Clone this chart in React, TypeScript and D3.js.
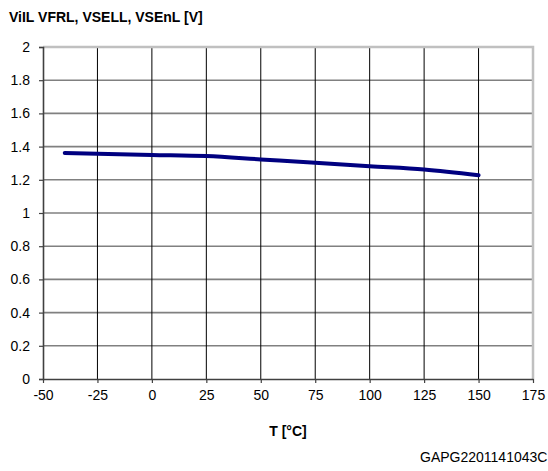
import * as d3 from "d3";
import { useEffect, useRef } from "react";

// temperature points and the threshold voltage
const temps = [-40, 0, 25, 50, 75, 100, 125, 150];
const volts = [1.362, 1.35, 1.343, 1.323, 1.303, 1.282, 1.262, 1.228];
const xTicks = [-50, -25, 0, 25, 50, 75, 100, 125, 150, 175];
const yTicks = [0, 0.2, 0.4, 0.6, 0.8, 1, 1.2, 1.4, 1.6, 1.8, 2];
const title = "ViIL VFRL, VSELL, VSEnL [V]";
const xTitle = "T [°C]";
const figId = "GAPG2201141043C";

const App = () => {
  const svgRef = useRef<SVGSVGElement>(null);

  const W = 548;
  const H = 471;
  const margin = { top: 47, right: 15, bottom: 92, left: 43 };
  const width = W - margin.left - margin.right;
  const height = H - margin.top - margin.bottom;

  useEffect(() => {
    const svg = d3.select(svgRef.current);
    svg.selectAll("*").remove();
    const font = "'Liberation Sans', Arial, sans-serif";

    const x = d3.scaleLinear().domain([-50, 175]).range([0, width]);
    const y = d3.scaleLinear().domain([0, 2]).range([height, 0]);

    const g = svg.append("g").attr("transform", `translate(${margin.left},${margin.top})`);

    //горизонтальная сетка
    g.selectAll(".hgrid")
      .data(yTicks.filter(d => d > 0 && d < 2))
      .enter()
      .append("line")
      .attr("x1", 0)
      .attr("x2", width)
      .attr("y1", d => y(d))
      .attr("y2", d => y(d))
      .attr("stroke", "#808080")
      .attr("stroke-width", 1.6);

    //вертикальная сетка
    g.selectAll(".vgrid")
      .data(xTicks.filter(d => d > -50 && d < 175))
      .enter()
      .append("line")
      .attr("x1", d => x(d))
      .attr("x2", d => x(d))
      .attr("y1", 0)
      .attr("y2", height)
      .attr("stroke", "#000")
      .attr("stroke-width", 1);

    //верхняя и правая рамка
    g.append("path")
      .attr("d", `M0,0H${width}V${height}`)
      .attr("fill", "none")
      .attr("stroke", "#c0c0c0")
      .attr("stroke-width", 2.5);

    //ось y
    const yAxis = g.append("g")
      .call(d3.axisLeft(y).tickValues(yTicks).tickSize(4).tickPadding(9).tickFormat(d => String(d)));
    yAxis.select(".domain").attr("stroke", "#404040").attr("stroke-width", 1.6);
    yAxis.selectAll(".tick line").attr("stroke", "#404040").attr("stroke-width", 1.2);
    yAxis.selectAll("text")
      .style("font-size", "14px")
      .style("font-family", font)
      .style("fill", "#000");

    //ось x (обычный дефис вместо знака минус)
    const xAxis = g.append("g")
      .attr("transform", `translate(0,${height})`)
      .call(d3.axisBottom(x).tickValues(xTicks).tickSize(4).tickPadding(7).tickSizeOuter(0).tickFormat(d => String(d)));
    xAxis.select(".domain").attr("stroke", "#404040").attr("stroke-width", 1.6);
    xAxis.selectAll(".tick line").attr("stroke", "#404040").attr("stroke-width", 1.2);
    xAxis.selectAll("text")
      .style("font-size", "14px")
      .style("font-family", font)
      .style("fill", "#000");

    //линия
    const line = d3.line<number>()
      .x((d, i) => x(temps[i]))
      .y(d => y(d))
      .curve(d3.curveMonotoneX);
    g.append("path")
      .datum(volts)
      .attr("d", line)
      .attr("fill", "none")
      .attr("stroke", "#000080")
      .attr("stroke-width", 4)
      .attr("stroke-linecap", "round");

    //подписи
    svg.append("text")
      .attr("x", 9)
      .attr("y", 22)
      .text(title)
      .style("font-size", "14px")
      .style("font-weight", "bold")
      .style("font-family", font);

    svg.append("text")
      .attr("x", margin.left + width / 2)
      .attr("y", 436)
      .attr("text-anchor", "middle")
      .text(xTitle)
      .style("font-size", "14px")
      .style("font-weight", "bold")
      .style("font-family", font);

    svg.append("text")
      .attr("x", 420)
      .attr("y", 462)
      .text(figId)
      .style("font-size", "14px")
      .style("font-family", font);
  }, []);

  return (
    <svg
      ref={svgRef}
      width={W}
      height={H}
      style={{ position: "absolute", left: 0, top: 0, background: "#fff" }}
    />
  );
};

export default App;
